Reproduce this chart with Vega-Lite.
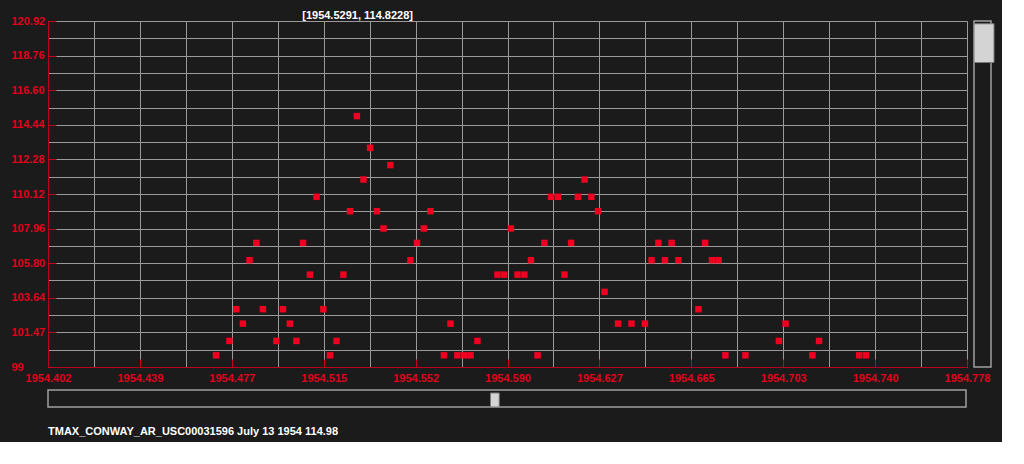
{
  "$schema": "https://vega.github.io/schema/vega-lite/v6.json",
  "background": "#1b1b1b",
  "padding": {"left": 10, "top": 9, "right": 6, "bottom": 4},
  "config": {
    "font": "Liberation Sans",
    "view": {"stroke": null},
    "axis": {
      "labelFont": "Liberation Sans",
      "labelFontWeight": "bold",
      "labelFontSize": 11,
      "labelColor": "#e0001c",
      "domainColor": "#b8001e",
      "tickColor": "#c8001e",
      "gridColor": "#9a9a9a",
      "gridWidth": 1,
      "gridOpacity": 1,
      "title": null,
      "labelOverlap": false,
      "labelFlush": false
    }
  },
  "columns": 2,
  "spacing": {"row": 23, "column": 7},
  "bounds": "flush",
  "concat": [
    {
      "width": 919,
      "height": 346,
      "view": {"stroke": "#b8001e", "strokeWidth": 1},
      "layer": [
        {
          "data": {
            "values": [
              {"year": 1954.4712, "tmax": 100.04},
              {"year": 1954.4767, "tmax": 100.94},
              {"year": 1954.4795, "tmax": 102.92},
              {"year": 1954.4822, "tmax": 102.02},
              {"year": 1954.4849, "tmax": 105.98},
              {"year": 1954.4877, "tmax": 107.06},
              {"year": 1954.4904, "tmax": 102.92},
              {"year": 1954.4959, "tmax": 100.94},
              {"year": 1954.4986, "tmax": 102.92},
              {"year": 1954.5014, "tmax": 102.02},
              {"year": 1954.5041, "tmax": 100.94},
              {"year": 1954.5068, "tmax": 107.06},
              {"year": 1954.5096, "tmax": 105.08},
              {"year": 1954.5123, "tmax": 109.94},
              {"year": 1954.5151, "tmax": 102.92},
              {"year": 1954.5178, "tmax": 100.04},
              {"year": 1954.5205, "tmax": 100.94},
              {"year": 1954.5233, "tmax": 105.08},
              {"year": 1954.526, "tmax": 109.04},
              {"year": 1954.5288, "tmax": 114.98},
              {"year": 1954.5315, "tmax": 111.02},
              {"year": 1954.5342, "tmax": 113.0},
              {"year": 1954.537, "tmax": 109.04},
              {"year": 1954.5397, "tmax": 107.96},
              {"year": 1954.5425, "tmax": 111.92},
              {"year": 1954.5507, "tmax": 105.98},
              {"year": 1954.5534, "tmax": 107.06},
              {"year": 1954.5562, "tmax": 107.96},
              {"year": 1954.5589, "tmax": 109.04},
              {"year": 1954.5644, "tmax": 100.04},
              {"year": 1954.5671, "tmax": 102.02},
              {"year": 1954.5699, "tmax": 100.04},
              {"year": 1954.5726, "tmax": 100.04},
              {"year": 1954.5753, "tmax": 100.04},
              {"year": 1954.5781, "tmax": 100.94},
              {"year": 1954.5863, "tmax": 105.08},
              {"year": 1954.589, "tmax": 105.08},
              {"year": 1954.5918, "tmax": 107.96},
              {"year": 1954.5945, "tmax": 105.08},
              {"year": 1954.5973, "tmax": 105.08},
              {"year": 1954.6, "tmax": 105.98},
              {"year": 1954.6027, "tmax": 100.04},
              {"year": 1954.6055, "tmax": 107.06},
              {"year": 1954.6082, "tmax": 109.94},
              {"year": 1954.611, "tmax": 109.94},
              {"year": 1954.6137, "tmax": 105.08},
              {"year": 1954.6164, "tmax": 107.06},
              {"year": 1954.6192, "tmax": 109.94},
              {"year": 1954.6219, "tmax": 111.02},
              {"year": 1954.6247, "tmax": 109.94},
              {"year": 1954.6274, "tmax": 109.04},
              {"year": 1954.6301, "tmax": 104.0},
              {"year": 1954.6356, "tmax": 102.02},
              {"year": 1954.6411, "tmax": 102.02},
              {"year": 1954.6466, "tmax": 102.02},
              {"year": 1954.6493, "tmax": 105.98},
              {"year": 1954.6521, "tmax": 107.06},
              {"year": 1954.6548, "tmax": 105.98},
              {"year": 1954.6575, "tmax": 107.06},
              {"year": 1954.6603, "tmax": 105.98},
              {"year": 1954.6685, "tmax": 102.92},
              {"year": 1954.6712, "tmax": 107.06},
              {"year": 1954.674, "tmax": 105.98},
              {"year": 1954.6767, "tmax": 105.98},
              {"year": 1954.6795, "tmax": 100.04},
              {"year": 1954.6877, "tmax": 100.04},
              {"year": 1954.7014, "tmax": 100.94},
              {"year": 1954.7041, "tmax": 102.02},
              {"year": 1954.7151, "tmax": 100.04},
              {"year": 1954.7178, "tmax": 100.94},
              {"year": 1954.7342, "tmax": 100.04},
              {"year": 1954.737, "tmax": 100.04}
            ]
          },
          "mark": {"type": "square", "size": 42, "filled": true, "color": "#f00020", "opacity": 1},
          "encoding": {
            "x": {
              "field": "year",
              "type": "quantitative",
              "scale": {"domain": [1954.4025, 1954.7783], "nice": false, "zero": false},
              "axis": {
                "orient": "bottom",
                "values": [1954.4025, 1954.42129, 1954.44008, 1954.45887, 1954.47766, 1954.49645, 1954.51524, 1954.53403, 1954.55282, 1954.57161, 1954.5904, 1954.60919, 1954.62798, 1954.64677, 1954.66556, 1954.68435, 1954.70314, 1954.72193, 1954.74072, 1954.75951, 1954.7783],
                "tickCount": 40,
                "grid": true,
                "tickSize": -8,
                "tickOpacity": {"condition": {"test": "round((datum.value - 1954.4025) / 0.01879) % 2 === 0", "value": 1}, "value": 0},
                "labelPadding": 13,
                "labelDx": 10,
                "labelExpr": "round((datum.value - 1954.4025) / 0.01879) % 2 === 0 ? ['1954.402','1954.439','1954.477','1954.515','1954.552','1954.590','1954.627','1954.665','1954.703','1954.740','1954.778'][round((datum.value - 1954.4025) / 0.01879) / 2] : ''"
              }
            },
            "y": {
              "field": "tmax",
              "type": "quantitative",
              "scale": {"domain": [99.31, 120.92], "nice": false, "zero": false},
              "axis": {
                "orient": "left",
                "values": [99.31, 100.3905, 101.471, 102.5515, 103.632, 104.7125, 105.793, 106.8735, 107.954, 109.0345, 110.115, 111.1955, 112.276, 113.3565, 114.437, 115.5175, 116.598, 117.6785, 118.759, 119.8395, 120.92],
                "tickCount": 40,
                "grid": true,
                "tickSize": -8,
                "tickOpacity": {"condition": {"test": "round((datum.value - 99.31) / 1.0805) % 2 === 0", "value": 1}, "value": 0},
                "labelAlign": "left",
                "labelPadding": 45,
                "labelExpr": "round((datum.value - 99.31) / 1.0805) % 2 === 0 ? ['99','101.47','103.64','105.80','107.96','110.12','112.28','114.44','116.60','118.76','120.92'][round((datum.value - 99.31) / 1.0805) / 2] : ''"
              }
            }
          }
        },
        {
          "data": {"values": [{"year": 1954.5291, "tmax": 114.8228, "label": "[1954.5291, 114.8228]"}]},
          "mark": {"type": "text", "color": "#ffffff", "font": "Liberation Sans", "fontWeight": "bold", "fontSize": 11, "baseline": "alphabetic", "dy": -2, "clip": false},
          "encoding": {
            "x": {"field": "year", "type": "quantitative"},
            "y": {"datum": 120.92},
            "text": {"field": "label"}
          }
        }
      ]
    },
    {
      "width": 17,
      "height": 346,
      "view": {"stroke": "#a0a0a0", "strokeWidth": 1.5},
      "data": {"values": [{"from": 0.88, "to": 0.992}]},
      "mark": {"type": "rect", "color": "#d4d4d4", "stroke": "#7a7a7a", "strokeWidth": 1, "xOffset": 3, "x2Offset": -3},
      "encoding": {
        "y": {"field": "from", "type": "quantitative", "scale": {"domain": [0, 1], "nice": false}, "axis": null},
        "y2": {"field": "to"}
      }
    },
    {
      "width": 918,
      "height": 17,
      "view": {"stroke": "#a0a0a0", "strokeWidth": 1.5},
      "data": {"values": [{"from": 0.482, "to": 0.4915}]},
      "mark": {"type": "rect", "color": "#d4d4d4", "stroke": "#7a7a7a", "strokeWidth": 1, "yOffset": 3, "y2Offset": -3},
      "encoding": {
        "x": {"field": "from", "type": "quantitative", "scale": {"domain": [0, 1], "nice": false}, "axis": null},
        "x2": {"field": "to"}
      },
      "title": {
        "text": "TMAX_CONWAY_AR_USC00031596 July 13 1954 114.98",
        "orient": "bottom",
        "anchor": "start",
        "color": "#ffffff",
        "font": "Liberation Sans",
        "fontSize": 11,
        "fontWeight": "bold",
        "offset": 18
      }
    }
  ]
}
